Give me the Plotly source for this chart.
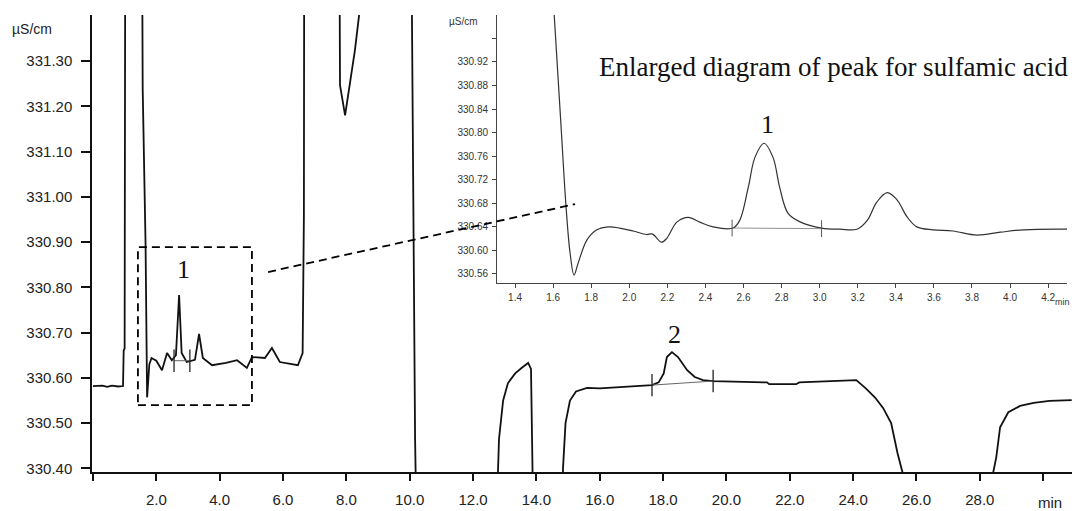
import plotly.graph_objects as go

# ---------------- main chromatogram (time in min, conductivity in µS/cm) ----------------
main_t = [0.0, 0.3, 0.45, 0.6, 0.8, 0.95, 0.97, 1.0, 1.02, 1.55, 1.57, 1.62, 1.66, 1.71,
          1.78, 1.85, 2.00, 2.18, 2.34, 2.49, 2.62, 2.72, 2.80, 2.96, 3.22, 3.35, 3.47,
          3.76, 4.2, 4.55, 4.86, 5.02, 5.43, 5.65, 5.90, 6.47, 6.62, 6.66, 6.67, 7.78,
          7.80, 7.96, 8.10, 8.27, 8.40, 8.47, 10.05, 10.12, 10.17, 10.23, 12.70, 12.82,
          12.95, 13.10, 13.33, 13.55, 13.74, 13.83, 13.88, 13.92, 14.80, 14.84, 14.92,
          15.06, 15.25, 15.6, 16.0, 16.6, 17.2, 17.65, 17.86, 18.02, 18.12, 18.28, 18.47,
          18.76, 19.0, 19.26, 19.58, 20.5, 21.28, 21.35, 22.2, 22.3, 23.9, 24.1, 24.4,
          24.7, 24.95, 25.2, 25.4, 25.6, 25.7, 28.35, 28.42, 28.52, 28.64, 28.9, 29.27,
          29.7, 30.2, 30.9]
main_y = [330.582, 330.583, 330.580, 330.583, 330.581, 330.582, 330.660, 330.665, 331.6,
          331.6, 331.24, 331.08, 330.90, 330.557, 330.630, 330.644, 330.638, 330.617,
          330.655, 330.639, 330.650, 330.783, 330.655, 330.635, 330.640, 330.697, 330.644,
          330.628, 330.633, 330.639, 330.622, 330.646, 330.644, 330.666, 330.635, 330.628,
          330.655, 330.960, 331.6, 331.6, 331.247, 331.180, 331.243, 331.324, 331.40,
          331.6, 331.6, 330.904, 330.467, 330.2, 330.2, 330.465, 330.55, 330.588, 330.61,
          330.623, 330.633, 330.620, 330.45, 330.2, 330.2, 330.40, 330.50, 330.55, 330.570,
          330.578, 330.577, 330.580, 330.583, 330.584, 330.590, 330.610, 330.646, 330.657,
          330.646, 330.617, 330.602, 330.595, 330.593, 330.592, 330.590, 330.586, 330.586,
          330.590, 330.595, 330.595, 330.577, 330.556, 330.533, 330.50, 330.434, 330.38,
          330.2, 330.2, 330.39, 330.425, 330.491, 330.524, 330.538, 330.545, 330.549,
          330.551]

# peak integration limits in the main chart
p1_t = [2.56, 3.06]
p1_y = [330.638, 330.638]
p2_t = [17.65, 19.58]
p2_y = [330.584, 330.593]

# ---------------- inset: enlarged sulfamic acid region ----------------
ins_t = [1.60, 1.64, 1.668, 1.689, 1.71, 1.731, 1.778, 1.83, 1.89, 1.95, 2.02, 2.09, 2.12,
         2.17, 2.198, 2.25, 2.31, 2.37, 2.44, 2.545, 2.58, 2.625, 2.66, 2.708, 2.755, 2.79,
         2.834, 2.90, 3.01, 3.107, 3.196, 3.25, 3.30, 3.355, 3.406, 3.459, 3.51, 3.596,
         3.70, 3.826, 3.95, 4.07, 4.30]
ins_y = [331.03, 330.82, 330.674, 330.596, 330.558, 330.578, 330.618, 330.635, 330.640,
         330.638, 330.633, 330.627, 330.628, 330.614, 330.621, 330.648, 330.656, 330.648,
         330.640, 330.638, 330.651, 330.707, 330.758, 330.782, 330.758, 330.707, 330.663,
         330.648, 330.638, 330.636, 330.636, 330.651, 330.682, 330.698, 330.686, 330.657,
         330.640, 330.635, 330.633, 330.626, 330.631, 330.635, 330.636]
ins_p_t = [2.54, 3.01]
ins_p_y = [330.638, 330.637]

main_xticks = [0, 2, 4, 6, 8, 10, 12, 14, 16, 18, 20, 22, 24, 26, 28, 30]
main_xtext = [""] + [f"{v:.1f}" for v in main_xticks[1:-1]] + [""]
main_yticks = [330.40, 330.50, 330.60, 330.70, 330.80, 330.90, 331.00, 331.10, 331.20, 331.30]
ins_xticks = [1.4, 1.6, 1.8, 2.0, 2.2, 2.4, 2.6, 2.8, 3.0, 3.2, 3.4, 3.6, 3.8, 4.0, 4.2]
ins_yticks = [330.56, 330.60, 330.64, 330.68, 330.72, 330.76, 330.80, 330.84, 330.88, 330.92, 330.96]
ins_ytext = [f"{v:.2f}" for v in ins_yticks[:-1]] + [""]

# zoom box and connector (data coordinates of main chart)
box_t = [1.42, 5.02]
box_y = [330.540, 330.889]
conn_t = [5.53, 15.22]
conn_y = [330.834, 330.984]

SANS = "Liberation Sans, Arial, sans-serif"
SERIF = "Liberation Serif, Times New Roman, serif"

fig = go.Figure()

fig.add_trace(go.Scatter(x=main_t, y=main_y, mode="lines",
                         line=dict(color="#111111", width=1.8), xaxis="x", yaxis="y",
                         showlegend=False, hoverinfo="skip"))
for pt, py in [(p1_t, p1_y), (p2_t, p2_y)]:
    fig.add_trace(go.Scatter(x=pt, y=py, mode="lines+markers",
                             line=dict(color="#666666", width=1),
                             marker=dict(symbol="line-ns", size=16,
                                         line=dict(color="#222222", width=1.3)),
                             xaxis="x", yaxis="y", showlegend=False, hoverinfo="skip"))

fig.add_trace(go.Scatter(x=ins_t, y=ins_y, mode="lines", line_shape="spline",
                         line=dict(color="#333333", width=1.2), xaxis="x2", yaxis="y2",
                         showlegend=False, hoverinfo="skip"))
fig.add_trace(go.Scatter(x=ins_p_t, y=ins_p_y, mode="lines+markers",
                         line=dict(color="#777777", width=0.8),
                         marker=dict(symbol="line-ns", size=12,
                                     line=dict(color="#555555", width=1)),
                         xaxis="x2", yaxis="y2", showlegend=False, hoverinfo="skip"))

fig.add_shape(type="rect", xref="x", yref="y", x0=box_t[0], x1=box_t[1],
              y0=box_y[0], y1=box_y[1], line=dict(color="black", width=1.8, dash="8px,5px"))
fig.add_shape(type="line", xref="x", yref="y", x0=conn_t[0], x1=conn_t[1],
              y0=conn_y[0], y1=conn_y[1], line=dict(color="black", width=1.8, dash="8px,5px"))

# the page body has an 8px margin, so the figure origin sits at (8, 8) in the window
fig.update_layout(
    width=1085, height=511,
    margin=dict(l=84, r=21, t=7, b=47, autoexpand=False),
    paper_bgcolor="white", plot_bgcolor="white",
    xaxis=dict(domain=[0, 1], range=[-0.03, 30.91], tickvals=main_xticks, ticktext=main_xtext,
               ticks="outside", ticklen=7, tickwidth=1.5, tickcolor="#111", automargin=False,
               showline=True, linecolor="#111", linewidth=1.5, showgrid=False, zeroline=False,
               tickfont=dict(family=SANS, size=15, color="#222"), ticklabelstandoff=6),
    yaxis=dict(domain=[0, 1], range=[330.392, 331.402], tickvals=main_yticks,
               ticktext=[f"{v:.2f}" for v in main_yticks], automargin=False,
               ticks="outside", ticklen=9, tickwidth=1.5, tickcolor="#111",
               showline=True, linecolor="#111", linewidth=1.5, showgrid=False, zeroline=False,
               tickfont=dict(family=SANS, size=15, color="#222"), ticklabelstandoff=6),
    xaxis2=dict(domain=[0.4133, 0.9949], anchor="y2", range=[1.3055, 4.299],
                tickvals=ins_xticks, ticktext=[f"{v:.1f}" for v in ins_xticks], automargin=False,
                ticks="outside", ticklen=4, tickwidth=1, tickcolor="#444",
                showline=True, linecolor="#444", linewidth=1, showgrid=False, zeroline=False,
                tickfont=dict(family=SANS, size=10, color="#333"), ticklabelstandoff=1),
    yaxis2=dict(domain=[0.4136, 1.0], anchor="x2", range=[330.5447, 330.9998],
                tickvals=ins_yticks, ticktext=ins_ytext, automargin=False,
                ticks="outside", ticklen=4, tickwidth=1, tickcolor="#444",
                showline=True, linecolor="#444", linewidth=1, showgrid=False, zeroline=False,
                tickfont=dict(family=SANS, size=10, color="#333"), ticklabelstandoff=2),
)

ann = [
    dict(text="µS/cm", xref="paper", yref="paper", x=-0.084, y=0.97, xanchor="left",
         yanchor="middle", font=dict(family=SANS, size=14, color="#222")),
    dict(text="min", xref="paper", yref="paper", x=0.978, y=-0.066, xanchor="center",
         yanchor="middle", font=dict(family=SANS, size=15, color="#222")),
    dict(text="µS/cm", xref="paper", yref="paper", x=0.3622, y=0.985, xanchor="left",
         yanchor="middle", font=dict(family=SANS, size=10, color="#333")),
    dict(text="min", xref="paper", yref="paper", x=0.9898, y=0.372, xanchor="center",
         yanchor="middle", font=dict(family=SANS, size=9, color="#333")),
    dict(text="Enlarged diagram of peak for sulfamic acid", xref="paper", yref="paper",
         x=0.5153, y=0.886, xanchor="left", yanchor="middle",
         font=dict(family=SERIF, size=27, color="#111")),
    dict(text="1", xref="paper", yref="paper", x=0.0929, y=0.444, xanchor="center",
         yanchor="middle", font=dict(family=SERIF, size=26, color="#111")),
    dict(text="1", xref="paper", yref="paper", x=0.6888, y=0.761, xanchor="center",
         yanchor="middle", font=dict(family=SERIF, size=26, color="#111")),
    dict(text="2", xref="paper", yref="paper", x=0.594, y=0.300, xanchor="center",
         yanchor="middle", font=dict(family=SERIF, size=26, color="#111")),
]
for a in ann:
    a["showarrow"] = False
    fig.add_annotation(**a)

fig.write_html("out.html")
